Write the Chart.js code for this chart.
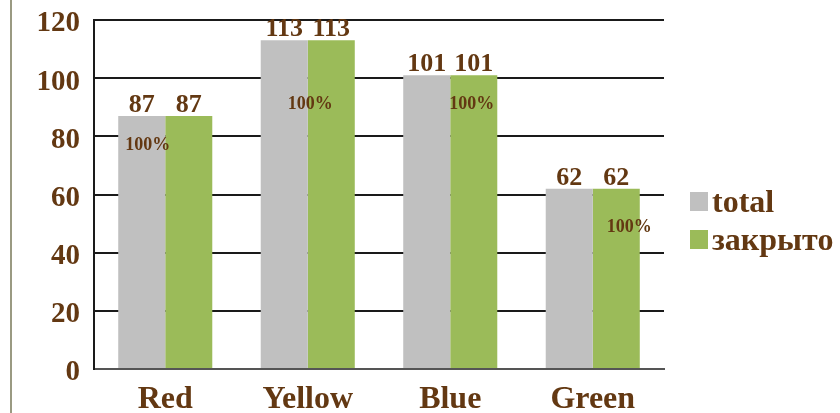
<!DOCTYPE html>
<html>
<head>
<meta charset="utf-8">
<script src="https://cdn.jsdelivr.net/npm/chart.js@4/dist/chart.umd.min.js"></script>
<style>
  body { margin: 0; background: #fff; }
  #wrap { width: 840px; height: 413px; }
</style>
</head>
<body>
<div id="wrap"><canvas id="chart1" width="840" height="413"></canvas></div>
<script>
// data
const categories = ["Red", "Yellow", "Blue", "Green"];
const totalValues = [87, 113, 101, 62];
const closedValues = [87, 113, 101, 62];
const yTicks = [0, 20, 40, 60, 80, 100, 120];

const brown = "#633812";
const serif = "'Liberation Serif', 'Times New Roman', serif";

// where the "100%" labels sit, relative to the green bar (px)
const pctDx = [-41, -21, -2, 13];
const pctDy = [29, 64, 29, 39];

// value labels above bars (drawn under the grid like in the original)
const valueLabels = {
  id: "valueLabels",
  beforeDatasetsDraw(chart) {
    const ctx = chart.ctx;
    ctx.save();
    ctx.font = "bold 26px " + serif;
    ctx.fillStyle = brown;
    ctx.textAlign = "center";
    ctx.textBaseline = "alphabetic";
    chart.data.datasets.forEach((ds, i) => {
      chart.getDatasetMeta(i).data.forEach((bar, j) => {
        ctx.fillText(ds.data[j], bar.x, bar.y - 4);
      });
    });
    ctx.restore();
  }
};

// percent labels + legend + left border
const extras = {
  id: "extras",
  beforeDraw(chart) {
    const ctx = chart.ctx;
    ctx.save();
    ctx.strokeStyle = "#9a9a82";
    ctx.lineWidth = 2;
    ctx.beginPath();
    ctx.moveTo(11, 0);
    ctx.lineTo(11, chart.height);
    ctx.stroke();
    ctx.restore();
  },
  afterDraw(chart) {
    const ctx = chart.ctx;
    ctx.save();
    // 100% labels
    ctx.font = "bold 18px " + serif;
    ctx.fillStyle = brown;
    ctx.textAlign = "center";
    ctx.textBaseline = "middle";
    chart.getDatasetMeta(1).data.forEach((bar, j) => {
      const pct = Math.round(closedValues[j] / totalValues[j] * 100) + "%";
      ctx.fillText(pct, bar.x + pctDx[j], bar.y + pctDy[j]);
    });
    // legend
    ctx.font = "bold 32px " + serif;
    ctx.textAlign = "left";
    ctx.textBaseline = "alphabetic";
    const lx = chart.chartArea.right + 26;
    chart.data.datasets.forEach((ds, i) => {
      const top = 192 + i * 38;
      ctx.fillStyle = ds.backgroundColor;
      ctx.fillRect(lx, top, 18, 19);
      ctx.fillStyle = brown;
      ctx.fillText(ds.label, lx + 22, top + 20);
    });
    ctx.restore();
  }
};

new Chart(document.getElementById("chart1"), {
  type: "bar",
  data: {
    labels: categories,
    datasets: [
      {
        label: "total",
        data: totalValues,
        backgroundColor: "#c0c0c0",
        categoryPercentage: 0.66,
        barPercentage: 1.0
      },
      {
        label: "закрыто",
        data: closedValues,
        backgroundColor: "#9bbb59",
        categoryPercentage: 0.66,
        barPercentage: 1.0
      }
    ]
  },
  options: {
    responsive: false,
    animation: false,
    layout: { padding: { top: 20, right: 176, left: 0, bottom: 0 } },
    plugins: {
      legend: { display: false },
      tooltip: { enabled: false }
    },
    scales: {
      x: {
        grid: { display: false, drawTicks: false },
        border: { color: "#555", width: 2 },
        ticks: {
          color: brown,
          font: { family: serif, size: 32, weight: "bold" },
          padding: 12
        },
        afterFit(scale) {
          scale.height = 44;
          scale.paddingLeft = 0;
          scale.paddingRight = 0;
        }
      },
      y: {
        min: 0,
        max: 120,
        afterBuildTicks(scale) { scale.ticks = yTicks.map(v => ({ value: v })); },
        grid: { color: "#1a1a1a", lineWidth: 2, drawTicks: false },
        border: { color: "#1a1a1a", width: 2 },
        ticks: {
          color: brown,
          font: { family: serif, size: 29, weight: "bold" },
          padding: 14,
          labelOffset: 4
        },
        afterFit(scale) {
          scale.width = 94;
          scale.paddingTop = 0;
          scale.paddingBottom = 0;
        }
      }
    }
  },
  plugins: [valueLabels, extras]
});
</script>
</body>
</html>
